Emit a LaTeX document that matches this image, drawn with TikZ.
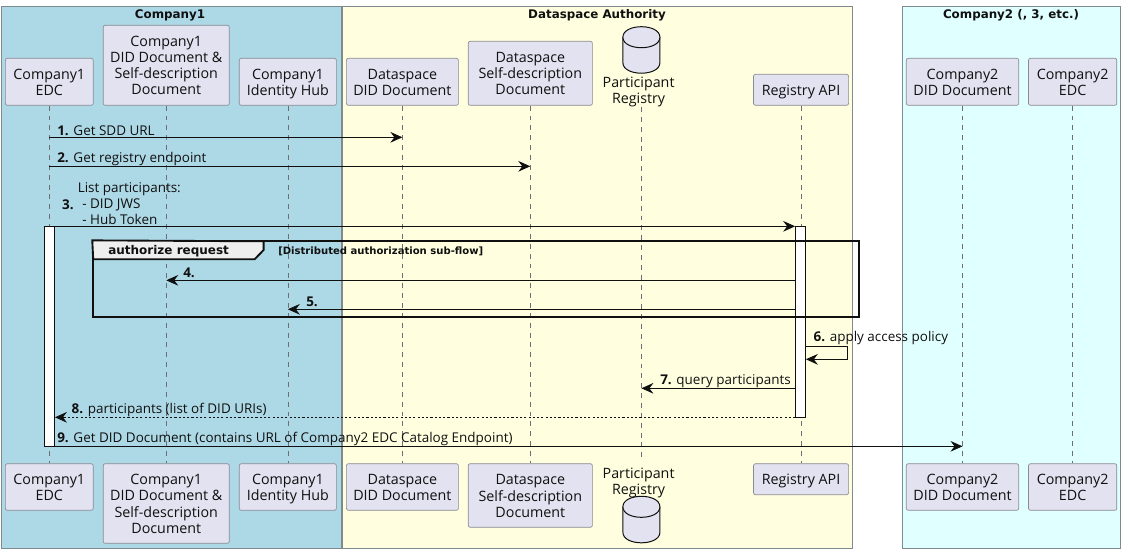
\documentclass[tikz,border=0pt]{standalone}
\usepackage{fontspec}
\setmainfont{Open Sans}
\newfontfamily\titlefont{DejaVu Sans}
\usetikzlibrary{arrows.meta}
\definecolor{pfill}{HTML}{E2E2F0}
\definecolor{pline}{HTML}{8A8A92}
\definecolor{grpline}{HTML}{7F8A8F}
\definecolor{tabfill}{HTML}{EEEEEE}
\definecolor{ink}{HTML}{101010}
\definecolor{c1fill}{HTML}{ADD8E6}
\definecolor{dsfill}{HTML}{FFFFE0}
\definecolor{c2fill}{HTML}{E0FFFF}
\tikzset{
  px/.style={x=0.75pt,y=-0.75pt},
  grp/.style={draw=grpline,line width=0.7pt},
  part/.style={draw=pline,line width=0.5pt,fill=pfill,rounded corners=1.5pt,inner sep=0pt,font=\fontsize{10.7pt}{12.1pt}\selectfont,text=ink},
  cyl/.style={draw=ink,line width=0.75pt,fill=pfill},
  plabel/.style={align=center,inner sep=0pt,font=\fontsize{10.7pt}{12.1pt}\selectfont,text=ink},
  anchorpt/.style={inner sep=0pt,minimum width=27.8pt,minimum height=34.8pt},
  life/.style={draw=pline!80!black,line width=0.45pt,dash pattern=on 3.7pt off 3.7pt},
  msg/.style={draw=ink,line width=0.7pt,-{Stealth[length=9pt,width=8pt,inset=3pt]}},
  msgd/.style={msg,dash pattern=on 1.6pt off 1.6pt},
  txt/.style={anchor=west,inner sep=0pt,text=ink,font=\fontsize{10.1pt}{11pt}\selectfont},
  gtitle/.style={inner sep=0pt,text=ink,font=\titlefont\bfseries\fontsize{8.9pt}{10pt}\selectfont},
  acti/.style={draw=ink,line width=0.7pt,fill=white,inner sep=0pt,minimum width=7.3pt},
  frm/.style={draw=ink,line width=1.4pt},
}
\newcommand{\pbox}[6]{% name x0 y0 x1 y1 text
  \node[part,minimum width={(#4-#2)*0.75pt},minimum height={(#5-#3)*0.75pt}] (#1) at ({(#2+#4)/2},{(#3+#5)/2})
    {\raisebox{-1.7pt}[\height][\depth]{\begin{tabular}{@{}c@{}}#6\end{tabular}}};
}
\newcommand{\drum}[3]{% name cx ytop
  \node[anchorpt,anchor=north] (#1) at (#2,#3) {};
  \draw[cyl] (#2-18.5,#3+10.5)
     .. controls (#2-18.5,#3-3.5) and (#2+18.5,#3-3.5) .. (#2+18.5,#3+10.5)
     -- (#2+18.5,#3+36)
     .. controls (#2+18.5,#3+50) and (#2-18.5,#3+50) .. (#2-18.5,#3+36) -- cycle;
  \draw[cyl] (#2-18.5,#3+10.5) .. controls (#2-18.5,#3+24.5) and (#2+18.5,#3+24.5) .. (#2+18.5,#3+10.5);
}
\begin{document}
\begin{tikzpicture}[px]
\useasboundingbox (0,0) rectangle (1125,558);
\fill[white] (0,0) rectangle (1125,558);
% groups
\draw[grp,fill=c1fill] (1.5,6.5) rectangle (341,548);
\draw[grp,fill=dsfill] (342.5,6.5) rectangle (852.5,548);
\draw[grp,fill=c2fill] (902.5,6.5) rectangle (1120.5,548);
\node[gtitle] (g1) at (170,15.5) {Company1};
\node[gtitle] (g2) at (597,15.5) {Dataspace Authority};
\node[gtitle] (g3) at (1011,15.5) {Company2 (, 3, etc.)};
% top participants
\pbox{aT}{5.4}{58.3}{93.2}{105.3}{Company1\\EDC}
\pbox{bT}{103.2}{25.3}{229.3}{105.3}{Company1\\DID Document \&\\Self-description\\Document}
\pbox{cT}{239.3}{58.3}{336.4}{105.3}{Company1\\Identity Hub}
\pbox{dT}{346.4}{58.3}{458.4}{105.3}{Dataspace\\DID Document}
\pbox{eT}{468.2}{41.3}{592.4}{105.3}{Dataspace\\Self-description\\Document}
\drum{fT}{641.4}{26.7}
\node[plabel] (fTl) at (638.6,92) {Participant\\Registry};
\pbox{gT}{753.5}{74.3}{848.6}{105.3}{Registry API}
\pbox{hT}{906.3}{58.3}{1018.7}{105.3}{Company2\\DID Document}
\pbox{iT}{1028.5}{58.3}{1116.8}{105.3}{Company2\\EDC}
% bottom participants
\pbox{aB}{5.4}{463.7}{93.2}{510.3}{Company1\\EDC}
\pbox{bB}{103.2}{463.7}{229.3}{543.3}{Company1\\DID Document \&\\Self-description\\Document}
\pbox{cB}{239.3}{463.7}{336.4}{510.3}{Company1\\Identity Hub}
\pbox{dB}{346.4}{463.7}{458.4}{510.3}{Dataspace\\DID Document}
\pbox{eB}{468.2}{463.7}{592.4}{527.3}{Dataspace\\Self-description\\Document}
\drum{fB}{641.4}{496.3}
\node[plabel] (fBl) at (638.6,483) {Participant\\Registry};
\pbox{gB}{753.5}{463.7}{848.6}{494.7}{Registry API}
\pbox{hB}{906.3}{463.7}{1018.7}{510.3}{Company2\\DID Document}
\pbox{iB}{1028.5}{463.7}{1116.8}{510.3}{Company2\\EDC}
% lifelines
\coordinate (fTs) at (641.4,107);
\coordinate (fBn) at (641.4,462);
\draw[life] (aT.south) -- (aB.north);
\draw[life] (bT.south) -- (bB.north);
\draw[life] (cT.south) -- (cB.north);
\draw[life] (dT.south) -- (dB.north);
\draw[life] (eT.south) -- (eB.north);
\draw[life] (fTs) -- (fBn);
\draw[life] (gT.south) -- (gB.north);
\draw[life] (hT.south) -- (hB.north);
\draw[life] (iT.south) -- (iB.north);
% activations
\node[acti,minimum height={220*0.75pt}] (actL) at (49.6,336.3) {};
\node[acti,minimum height={191*0.75pt}] (actR) at (800.5,321.8) {};
% frame
\node[inner sep=0pt,minimum width={(859-93.2)*0.75pt},minimum height={76*0.75pt},frm] (frame) at (476.1,279.3) {};
\draw[frm,fill=tabfill] (frame.north west) -- (263.6,241.3) -- (263.6,250) -- (254.6,259.3) -- (93.2,259.3) -- cycle;
\node[txt,font=\titlefont\bfseries\fontsize{9pt}{10pt}\selectfont] (ftitle) at (108,251.3) {authorize request};
\node[txt,font=\titlefont\bfseries\fontsize{7.55pt}{8pt}\selectfont] (fguard) at (278,251) {[Distributed authorization sub-flow]};
% messages
\draw[msg] (aT |- 0,137.3) -- (dT |- 0,137.3);
\node[txt] (m1) at (57,130.3) {\textbf{1.} Get SDD URL};
\draw[msg] (aT |- 0,166.3) -- (eT |- 0,166.3);
\node[txt] (m2) at (57,159.3) {\textbf{2.} Get registry endpoint};
\draw[msg] (aT |- 0,226.3) -- (actR.west |- 0,226.3);
\node[txt] (m3a) at (77.5,188.7) {List participants:};
\node[txt] (m3n) at (61.8,204.7) {\textbf{3.}};
\node[txt] (m3b) at (82,204.7) {- DID JWS};
\node[txt] (m3c) at (82,219.7) {- Hub Token};
\draw[msg] (actR.west |- 0,280.3) -- (bT |- 0,280.3);
\node[txt] (m4) at (183,273) {\textbf{4.}};
\draw[msg] (actR.west |- 0,309.3) -- (cT |- 0,309.3);
\node[txt] (m5) at (306,302) {\textbf{5.}};
\draw[msg] (actR.east |- 0,346.7) -- (847.6,346.7) -- (847.6,359.3) -- (actR.east |- 0,359.3);
\node[txt] (m6) at (813.3,338) {\textbf{6.} apply access policy};
\draw[msg] (actR.west |- 0,388.3) -- (fTs |- 0,388.3);
\node[txt] (m7) at (660,381) {\textbf{7.} query participants};
\draw[msgd] (actR.west |- 0,417.3) -- (actL.east |- 0,417.3);
\node[txt] (m8) at (71.4,410.3) {\textbf{8.} participants (list of DID URIs)};
\draw[msg] (actL.east |- 0,446.3) -- (hT |- 0,446.3);
\node[txt] (m9) at (57,439.3) {\textbf{9.} Get DID Document (contains URL of Company2 EDC Catalog Endpoint)};
\end{tikzpicture}
\end{document}
